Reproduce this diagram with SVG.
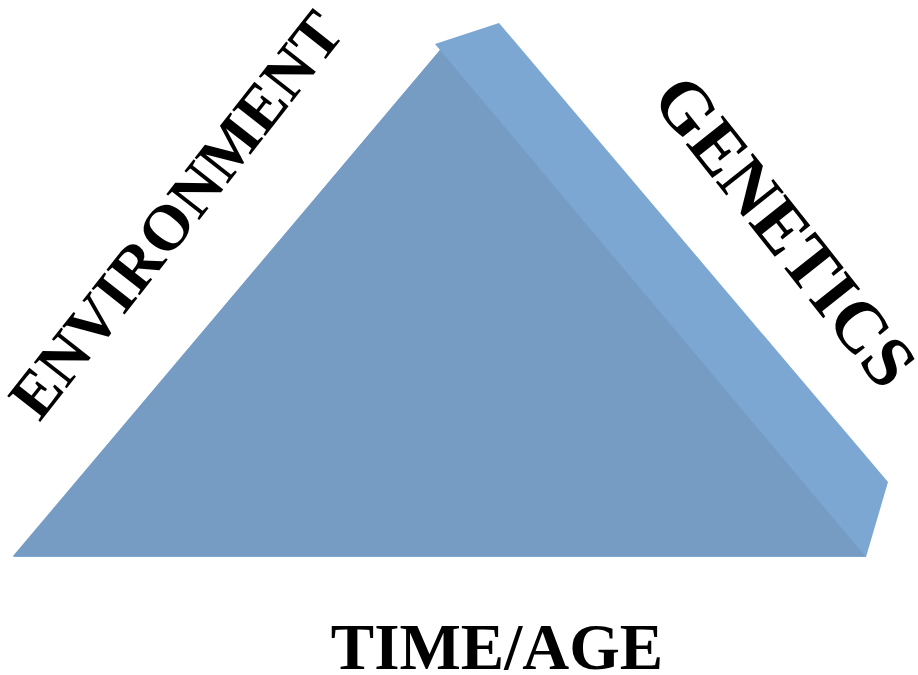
<svg xmlns="http://www.w3.org/2000/svg" width="918" height="675" viewBox="0 0 918 675">
  <style>
    .lbl { font-family: "Liberation Serif", "Times New Roman", serif; font-weight: bold; fill: #000000; }
  </style>
  <rect x="0" y="0" width="918" height="675" fill="#ffffff"/>
  <g id="pyramid">
    <polygon points="440,50 435,44 499,23 888,482 866,557 13,557" fill="#7BA7D2"/>
    <polygon points="13,556 440,50 865,556" fill="#769CC4"/>
  </g>
  <g id="environment">
    <text class="lbl" font-size="64" transform="translate(39.5,422.8) rotate(-51.8)" textLength="496" lengthAdjust="spacingAndGlyphs">ENVIRONMENT</text>
  </g>
  <g id="genetics">
    <text class="lbl" font-size="72" transform="translate(650,99.4) rotate(51.6)" textLength="374" lengthAdjust="spacingAndGlyphs">GENETICS</text>
  </g>
  <g id="time-age">
    <text class="lbl" font-size="65" x="497" y="669" text-anchor="middle">TIME/AGE</text>
  </g>
  <g id="connectors"></g>
</svg>
